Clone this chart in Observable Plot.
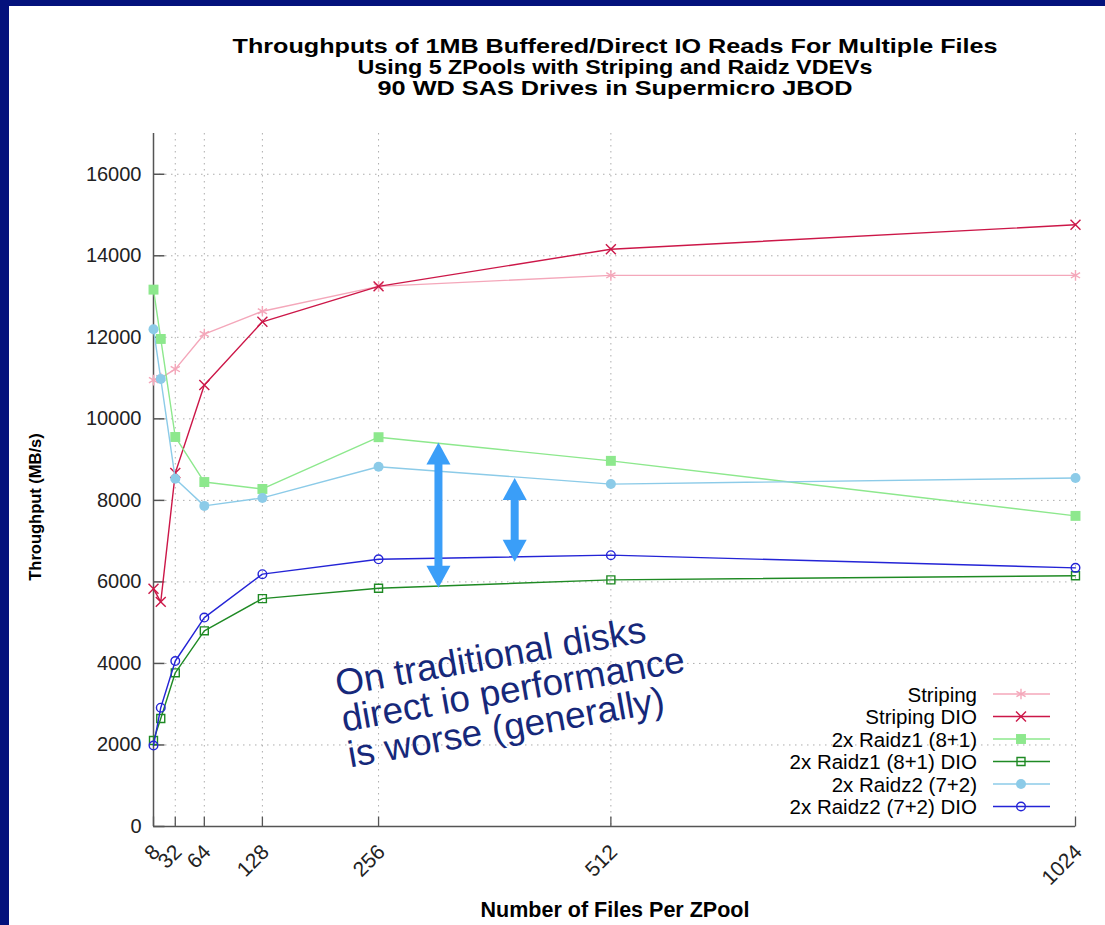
<!DOCTYPE html>
<html><head><meta charset="utf-8">
<script src="https://cdn.jsdelivr.net/npm/d3@7"></script>
<script src="https://cdn.jsdelivr.net/npm/@observablehq/plot@0.6"></script>
<style>
html,body{margin:0;padding:0;background:#04127c;width:1105px;height:925px;overflow:hidden}
#page{position:absolute;left:9px;top:6px;width:1096px;height:919px;background:#fff;overflow:hidden}
#chart{position:absolute;left:0;top:100px}
#overlay{position:absolute;left:0;top:0;pointer-events:none}
</style>
</head><body>
<div id="page"><div id="chart"></div><svg id="overlay" width="1096" height="919"></svg></div>
<script>
// ---- data ----
const filesPerPool = [8, 16, 32, 64, 128, 256, 512, 1024];
const striping      = [10950, 11000, 11220, 12080, 12640, 13250, 13520, 13520];
const stripingDIO   = [5830, 5510, 8670, 10830, 12380, 13250, 14160, 14760];
const raidz1        = [13170, 11960, 9555, 8450, 8280, 9550, 8970, 7620];
const raidz1DIO     = [2110, 2650, 3770, 4800, 5590, 5845, 6050, 6150];
const raidz2        = [12200, 10980, 8530, 7865, 8060, 8825, 8400, 8550];
const raidz2DIO     = [1985, 2915, 4060, 5125, 6190, 6555, 6656, 6345];
const seriesNames   = ["Striping", "Striping DIO", "2x Raidz1 (8+1)", "2x Raidz1 (8+1) DIO", "2x Raidz2 (7+2)", "2x Raidz2 (7+2) DIO"];
const xTickValues   = [8, 32, 64, 128, 256, 512, 1024];
const yTickValues   = [0, 2000, 4000, 6000, 8000, 10000, 12000, 14000, 16000];
const titleLines    = ["Throughputs of 1MB Buffered/Direct IO Reads For Multiple Files",
                       "Using 5 ZPools with Striping and Raidz VDEVs",
                       "90 WD SAS Drives in Supermicro JBOD"];
const xLabel = "Number of Files Per ZPool";
const yLabel = "Throughput (MB/s)";
// annotation (data coords)
const arrowsData = [{x: 322, top: 9420, bottom: 5855}, {x: 406, top: 8550, bottom: 6493}];
const noteData = [{x: 206, y: 3820, text: "On traditional disks\ndirect io performance\nis worse (generally)"}];

// ---- styles ----
const styles = [
  {color: "#f4a7ba", symbol: "asterisk", r: 5, filled: false},
  {color: "#cc1748", symbol: "times", r: 4.6, filled: false},
  {color: "#8de88d", symbol: "square", r: 5.6, filled: true},
  {color: "#1f8a24", symbol: "square", r: 4.5, filled: false},
  {color: "#8ccbe8", symbol: "circle", r: 5, filled: true},
  {color: "#2424d6", symbol: "circle", r: 4.3, filled: false}
];
const valuesList = [striping, stripingDIO, raidz1, raidz1DIO, raidz2, raidz2DIO];
const series = seriesNames.map((name, k) => ({name, ...styles[k],
  rows: filesPerPool.map((x, i) => ({x, y: valuesList[k][i], name}))}));

const tickRight = {draw(ctx) { ctx.moveTo(0, 0); ctx.lineTo(11, 0); }};
const tickUp = {draw(ctx) { ctx.moveTo(0, 0); ctx.lineTo(0, -10); }};
const headUp = {draw(ctx) { ctx.moveTo(0, 0); ctx.lineTo(12, 22); ctx.lineTo(-12, 22); ctx.closePath(); }};
const arrowColor = "#3a9ef8";
const fmt = d3.format("d");

const marks = [
  Plot.gridY(yTickValues.slice(1), {stroke: "#999", strokeOpacity: 0.8, strokeDasharray: "1.5,4.5"}),
  Plot.gridX(xTickValues.slice(1), {stroke: "#999", strokeOpacity: 0.8, strokeDasharray: "1.5,4.5"}),
  Plot.axisY(yTickValues, {tickSize: 0, tickPadding: 12, label: null, fontSize: 20, fill: "#222", tickFormat: fmt}),
  Plot.axisX(xTickValues, {tickSize: 0, tickRotate: -45, tickPadding: 22, dx: 3, label: null, fontSize: 21, fill: "#222", tickFormat: fmt}),
  Plot.ruleX([8], {stroke: "#555", strokeWidth: 1.5}),
  Plot.ruleY([0], {stroke: "#555", strokeWidth: 1.5}),
  Plot.dot(yTickValues, {y: d => d, frameAnchor: "left", symbol: tickRight, stroke: "#555", strokeWidth: 1.5, fill: "none"}),
  Plot.dot(xTickValues, {x: d => d, frameAnchor: "bottom", symbol: tickUp, stroke: "#555", strokeWidth: 1.3, fill: "none"})
];
for (const s of series) {
  marks.push(Plot.line(s.rows, {x: "x", y: "y", stroke: s.color, strokeWidth: 1.4}));
  marks.push(Plot.dot(s.rows, {x: "x", y: "y", symbol: s.symbol, r: s.r,
    fill: s.filled ? s.color : "none", stroke: s.filled ? "none" : s.color, strokeWidth: 1.4}));
}
marks.push(
  Plot.ruleX(arrowsData, {x: "x", y1: "top", y2: "bottom", stroke: arrowColor, strokeWidth: 8, insetTop: 20, insetBottom: 20}),
  Plot.dot(arrowsData, {x: "x", y: "top", symbol: headUp, fill: arrowColor, r: 5}),
  Plot.dot(arrowsData, {x: "x", y: "bottom", symbol: headUp, rotate: 180, fill: arrowColor, r: 5}),
  Plot.text(noteData, {x: "x", y: "y", text: "text", rotate: -10, textAnchor: "start", lineAnchor: "top",
    lineHeight: 0.98, fontSize: 37, fill: "#16287a", fontFamily: "Liberation Sans, Arial, sans-serif"})
);

const chart = Plot.plot({
  width: 1096, height: 819,
  marginLeft: 144, marginRight: 30, marginTop: 27, marginBottom: 99,
  style: {fontFamily: "Liberation Sans, Arial, sans-serif", fontSize: "20px", color: "#222", background: "transparent", overflow: "visible"},
  x: {type: "linear", domain: [8, 1024]},
  y: {domain: [0, 17000]},
  marks
});
document.getElementById("chart").appendChild(chart);

// ---- overlay: title, axis titles, legend ----
const ov = d3.select("#overlay");
const font = "Liberation Sans, Arial, sans-serif";
const titleCfg = [{cx: 606, y: 47, w: 765}, {cx: 606, y: 68, w: 515}, {cx: 606, y: 89, w: 475}];
titleLines.forEach((t, i) => {
  ov.append("text").attr("x", titleCfg[i].cx).attr("y", titleCfg[i].y)
    .attr("text-anchor", "middle").attr("font-family", font).attr("font-weight", "bold")
    .attr("font-size", 20.5).attr("textLength", titleCfg[i].w).attr("lengthAdjust", "spacingAndGlyphs")
    .attr("fill", "#000").text(t);
});
ov.append("text").attr("x", 606).attr("y", 911).attr("text-anchor", "middle")
  .attr("font-family", font).attr("font-weight", "bold").attr("font-size", 21.5).attr("fill", "#000").text(xLabel);
ov.append("text").attr("transform", "translate(32,501) rotate(-90)").attr("text-anchor", "middle")
  .attr("font-family", font).attr("font-weight", "bold").attr("font-size", 16.5).attr("fill", "#000").text(yLabel);

const lg = ov.append("g");
const symMap = {asterisk: d3.symbolAsterisk, times: d3.symbolTimes, square: d3.symbolSquare, circle: d3.symbolCircle};
series.forEach((s, i) => {
  const cy = 688 + i * 22.5;
  lg.append("text").attr("x", 968).attr("y", cy + 7.5).attr("text-anchor", "end")
    .attr("font-family", font).attr("font-size", 20.5).attr("fill", "#000").text(s.name);
  lg.append("line").attr("x1", 984).attr("x2", 1041).attr("y1", cy).attr("y2", cy)
    .attr("stroke", s.color).attr("stroke-width", 1.4);
  lg.append("path").attr("transform", `translate(1012,${cy})`)
    .attr("d", d3.symbol(symMap[s.symbol], Math.PI * s.r * s.r)())
    .attr("fill", s.filled ? s.color : "none").attr("stroke", s.filled ? "none" : s.color).attr("stroke-width", 1.4);
});
</script>
</body></html>
